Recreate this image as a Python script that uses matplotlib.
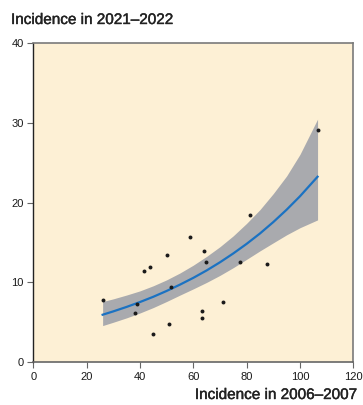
import numpy as np
import matplotlib
matplotlib.use('Agg')
import matplotlib.pyplot as plt
import matplotlib.patheffects as pe

# observed incidences per region
inc_0607 = [26.0, 38.8, 38.2, 41.4, 43.6, 50.1, 58.9, 51.5, 50.8, 44.9,
            106.6, 81.1, 63.9, 64.9, 77.6, 87.7, 71.0, 63.4, 63.4]
inc_2122 = [7.8, 7.3, 6.2, 11.5, 12.0, 13.5, 15.7, 9.4, 4.8, 3.5,
            29.1, 18.5, 14.0, 12.6, 12.6, 12.3, 7.6, 6.4, 5.6]

# fitted curve and confidence band
fit_x = [26, 30, 35, 40, 45, 50, 55, 60, 65, 70, 75, 80, 85, 90, 95, 100, 106.6]
fit_y = [5.96, 6.38, 6.94, 7.55, 8.21, 8.94, 9.73, 10.58, 11.51, 12.53,
         13.64, 14.84, 16.14, 17.57, 19.12, 20.80, 23.25]
band_lo = [4.60, 5.02, 5.57, 6.18, 6.86, 7.62, 8.42, 9.20, 10.01, 10.89,
           11.86, 12.90, 13.96, 14.97, 15.97, 16.86, 17.84]
band_hi = [7.61, 7.95, 8.43, 8.95, 9.59, 10.33, 11.19, 12.17, 13.27, 14.48,
           15.85, 17.41, 19.13, 21.14, 23.35, 26.05, 30.46]

plt.rcParams['font.family'] = ['Liberation Sans', 'DejaVu Sans']

fig = plt.figure(figsize=(3.63, 4.05), dpi=100)
ax = fig.add_axes([0.0917, 0.1054, 0.8816, 0.7884])
ax.set_facecolor('#fdf0d5')

ax.fill_between(fit_x, band_lo, band_hi, color='#a9aaae', lw=0, zorder=2)
ax.plot(fit_x, fit_y, color='#1b72c2', lw=1.6, zorder=3)
ax.scatter(inc_0607, inc_2122, s=8, color='#1a1a1a', zorder=4, lw=0)

ax.set_xlim(0, 120)
ax.set_ylim(0, 40)
ax.set_xticks(np.arange(0, 121, 20))
ax.set_yticks(np.arange(0, 41, 10))
ax.tick_params(length=4, width=0.8, color='#666666', labelsize=8,
               labelcolor='#1a1a1a', pad=3)

for s in ['top', 'right']:
    ax.spines[s].set_color('#7a7a7a')
    ax.spines[s].set_linewidth(1.2)
ax.spines['left'].set_color('#222222')
ax.spines['bottom'].set_color('#666666')
ax.spines['left'].set_linewidth(1.0)
ax.spines['bottom'].set_linewidth(1.2)

# medium-weight look for the axis titles
medium = [pe.withStroke(linewidth=0.3, foreground='#222222')]
fig.text(11/363, 1 - 20/405, 'Incidence in 2021\u20132022', fontsize=11,
         color='#222222', va='center', ha='left', path_effects=medium)
fig.text(357/363, 1 - 395/405, 'Incidence in 2006\u20132007', fontsize=11,
         color='#222222', va='center', ha='right', path_effects=medium)

plt.savefig('out.png', dpi=100)
